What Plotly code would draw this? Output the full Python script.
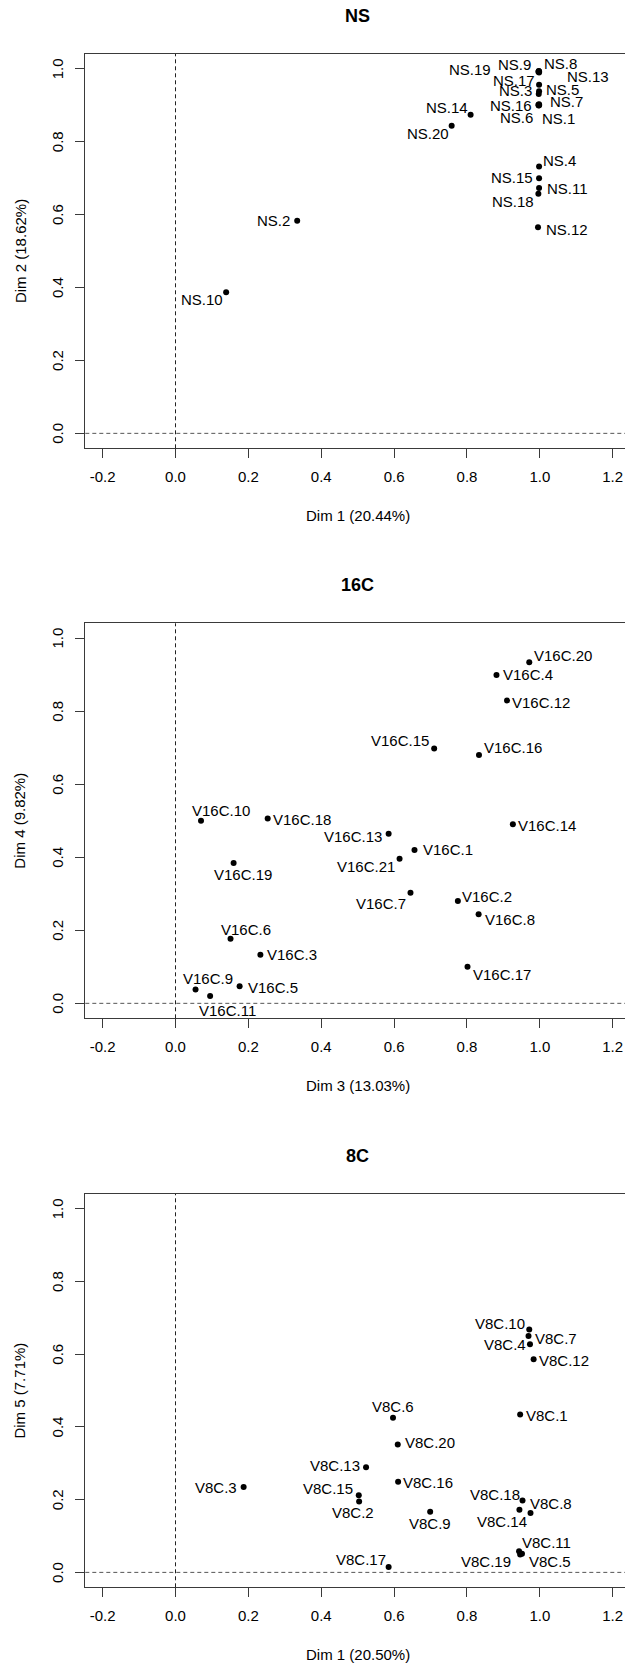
import plotly.graph_objects as go

# ---------------- data ----------------
ns_names = ["NS.1", "NS.2", "NS.3", "NS.4", "NS.5", "NS.6", "NS.7", "NS.8", "NS.9", "NS.10",
            "NS.11", "NS.12", "NS.13", "NS.14", "NS.15", "NS.16", "NS.17", "NS.18", "NS.19", "NS.20"]
ns_dim1 = [0.998, 0.334, 0.997, 0.998, 0.998, 0.997, 0.998, 0.998, 0.997, 0.139,
           0.998, 0.995, 0.998, 0.810, 0.998, 0.996, 0.998, 0.996, 0.996, 0.758]
ns_dim2 = [0.900, 0.583, 0.931, 0.732, 0.938, 0.899, 0.903, 0.993, 0.994, 0.387,
           0.673, 0.565, 0.990, 0.874, 0.700, 0.901, 0.956, 0.657, 0.992, 0.844]

c16_names = ["V16C.%d" % i for i in range(1, 22)]
c16_dim3 = [0.656, 0.775, 0.233, 0.881, 0.176, 0.151, 0.645, 0.832, 0.055, 0.070, 0.095,
            0.910, 0.585, 0.926, 0.710, 0.833, 0.8015, 0.253, 0.1595, 0.971, 0.615]
c16_dim4 = [0.420, 0.280, 0.133, 0.899, 0.047, 0.177, 0.303, 0.244, 0.038, 0.500, 0.020,
            0.829, 0.464, 0.490, 0.698, 0.680, 0.100, 0.506, 0.384, 0.934, 0.396]

c8_names = ["V8C.%d" % i for i in range(1, 21)]
c8_dim1 = [0.946, 0.504, 0.187, 0.973, 0.951, 0.597, 0.969, 0.9745, 0.699, 0.971,
           0.943, 0.983, 0.523, 0.944, 0.503, 0.611, 0.585, 0.9525, 0.946, 0.610]
c8_dim5 = [0.434, 0.195, 0.235, 0.627, 0.051, 0.425, 0.650, 0.163, 0.167, 0.668,
           0.058, 0.586, 0.289, 0.172, 0.212, 0.249, 0.015, 0.198, 0.049, 0.352]

panel_titles = ["NS", "16C", "8C"]
x_titles = ["Dim 1 (20.44%)", "Dim 3 (13.03%)", "Dim 1 (20.50%)"]
y_titles = ["Dim 2 (18.62%)", "Dim 4 (9.82%)", "Dim 5 (7.71%)"]
x_ticks = [-0.2, 0.0, 0.2, 0.4, 0.6, 0.8, 1.0, 1.2]
y_ticks = [0.0, 0.2, 0.4, 0.6, 0.8, 1.0]

# ---------------- label placement (pixel offsets from each point: right, down) ----------------
label_offsets = {
    "NS.1": (19, 13), "NS.2": (-24, 0), "NS.3": (-23, -3), "NS.4": (20, -6), "NS.5": (23, -2),
    "NS.6": (-22, 12), "NS.7": (27, -3), "NS.8": (21, -8), "NS.9": (-24, -6), "NS.10": (-24, 7),
    "NS.11": (28, 1), "NS.12": (29, 2), "NS.13": (49, 4), "NS.14": (-24, -7), "NS.15": (-27, -1),
    "NS.16": (-27, 1), "NS.17": (-25, -4), "NS.18": (-25, 8), "NS.19": (-68, -2), "NS.20": (-24, 8),
    "V16C.1": (33, 0), "V16C.2": (29, -5), "V16C.3": (32, 0), "V16C.4": (32, 0), "V16C.5": (33, 1),
    "V16C.6": (15, -9), "V16C.7": (-29, 11), "V16C.8": (31, 5), "V16C.9": (12, -11),
    "V16C.10": (20, -10), "V16C.11": (17, 14), "V16C.12": (34, 2), "V16C.13": (-36, 3),
    "V16C.14": (34, 1), "V16C.15": (-34, -8), "V16C.16": (34, -7), "V16C.17": (34, 8),
    "V16C.18": (34, 1), "V16C.19": (9, 11), "V16C.20": (34, -7), "V16C.21": (-34, 8),
    "V8C.1": (27, 1), "V8C.2": (-6, 11), "V8C.3": (-28, 1), "V8C.4": (-25, 0), "V8C.5": (28, 8),
    "V8C.6": (0, -11), "V8C.7": (27, 2), "V8C.8": (20, -10), "V8C.9": (0, 12), "V8C.10": (-29, -6),
    "V8C.11": (27, -9), "V8C.12": (30, 1), "V8C.13": (-31, -2), "V8C.14": (-17, 12),
    "V8C.15": (-31, -7), "V8C.16": (30, 1), "V8C.17": (-28, -7), "V8C.18": (-28, -6),
    "V8C.19": (-34, 7), "V8C.20": (32, -2),
}

# ---------------- page geometry (pixels) ----------------
W, H = 625, 1665
FONT = "Liberation Sans, Arial, Helvetica, sans-serif"
AXIS_COL = "#3a3a3a"
TXT = 15
panels_px = [(54.0, 448.3), (623.3, 1018.3), (1194.0, 1587.3)]  # top, bottom of each plot box
left_px = 85.3
x_range = [-0.2476, 1.2338]
y_range = [-0.041, 1.0405]

panels = [
    (ns_names, ns_dim1, ns_dim2),
    (c16_names, c16_dim3, c16_dim4),
    (c8_names, c8_dim1, c8_dim5),
]

fig = go.Figure()
annotations = []
shapes = []

for i, ((names, xs, ys), (top, bot)) in enumerate(zip(panels, panels_px)):
    k = "" if i == 0 else str(i + 1)
    xa, ya = "x" + k, "y" + k
    fig.add_trace(go.Scatter(
        x=xs, y=ys, mode="markers", xaxis=xa, yaxis=ya,
        marker=dict(color="black", size=6, line=dict(width=0)),
        hoverinfo="text", text=names, showlegend=False,
    ))
    for n, xv, yv in zip(names, xs, ys):
        dx, dy = label_offsets[n]
        annotations.append(dict(
            x=xv, y=yv, xref=xa, yref=ya, text=n, showarrow=False,
            xshift=dx, yshift=-dy, xanchor="center", yanchor="middle",
            font=dict(family=FONT, size=TXT, color="black"),
        ))

    dom_y = [1 - bot / H, 1 - top / H]
    fig.layout["xaxis" + k] = dict(
        domain=[left_px / W, 1.0], anchor=ya, range=x_range,
        tickmode="array", tickvals=x_ticks, ticktext=["%.1f" % v for v in x_ticks],
        ticks="outside", ticklen=9, tickwidth=1, tickcolor=AXIS_COL,
        showline=True, linecolor=AXIS_COL, linewidth=1, mirror=True,
        showgrid=False, zeroline=False, ticklabelstandoff=6,
        tickfont=dict(family=FONT, size=TXT, color="black"),
    )
    fig.layout["yaxis" + k] = dict(
        domain=dom_y, anchor=xa, range=y_range,
        tickmode="array", tickvals=y_ticks, showticklabels=False,
        ticks="outside", ticklen=9, tickwidth=1, tickcolor=AXIS_COL,
        showline=True, linecolor=AXIS_COL, linewidth=1, mirror=False,
        showgrid=False, zeroline=False,
    )
    # y tick labels drawn parallel to the axis
    for v in y_ticks:
        annotations.append(dict(
            x=57.5 / W, y=v, xref="paper", yref=ya, text="%.1f" % v, showarrow=False,
            xanchor="center", yanchor="middle", textangle=-90,
            font=dict(family=FONT, size=TXT, color="black"),
        ))

    # reference lines through the origin
    shapes.append(dict(type="line", xref=xa + " domain", yref=ya, x0=0, x1=1, y0=0, y1=0,
                       line=dict(color="#555555", width=1, dash="4px,3px")))
    shapes.append(dict(type="line", xref=xa, yref=ya + " domain", x0=0, x1=0, y0=0, y1=1,
                       line=dict(color="#222222", width=1, dash="4px,3px")))

    mid_x = (left_px + 630.0) / 2
    # main title
    annotations.append(dict(
        x=mid_x / W, y=1 - (top - 38) / H, xref="paper", yref="paper",
        text="<b>%s</b>" % panel_titles[i], showarrow=False, xanchor="center", yanchor="middle",
        font=dict(family=FONT, size=18, color="black"),
    ))
    # axis titles
    annotations.append(dict(
        x=mid_x / W, y=1 - (bot + 66.7) / H, xref="paper", yref="paper",
        text=x_titles[i], showarrow=False, xanchor="center", yanchor="middle",
        font=dict(family=FONT, size=TXT, color="black"),
    ))
    annotations.append(dict(
        x=19.9 / W, y=1 - ((top + bot) / 2) / H, xref="paper", yref="paper",
        text=y_titles[i], showarrow=False, xanchor="center", yanchor="middle", textangle=-90,
        font=dict(family=FONT, size=TXT, color="black"),
    ))

fig.update_layout(
    width=W, height=H, margin=dict(l=0, r=0, t=0, b=0),
    paper_bgcolor="white", plot_bgcolor="white",
    annotations=annotations, shapes=shapes,
)

fig.write_html("out.html")
